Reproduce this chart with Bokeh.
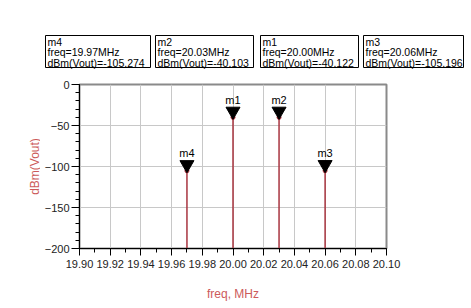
import math
from bokeh.plotting import figure
from bokeh.layouts import column, row
from bokeh.models import ColumnDataSource, FixedTicker, Range1d, CustomJSTickFormatter
from bokeh.core.properties import value
from bokeh.embed import file_html
from bokeh.resources import INLINE

# data
marker_names = ["m4", "m1", "m2", "m3"]
freqs = [19.97, 20.00, 20.03, 20.06]
levels = [-105.274, -40.122, -40.103, -105.196]
box_order = ["m4", "m2", "m1", "m3"]
x_ticks = [19.90, 19.92, 19.94, 19.96, 19.98, 20.00, 20.02, 20.04, 20.06, 20.08, 20.10]
y_ticks = [0, -50, -100, -150, -200]
x_title = "freq, MHz"
y_title = "dBm(Vout)"

FONT = "Liberation Sans"
RED = "#a8343f"
LBL_RED = "#cc5a5a"

W, H = 471, 308
HEAD_H = 80
STRIP_W = 40


def blank(width, height, xr, yr):
    f = figure(width=width, height=height, output_backend="svg", toolbar_location=None,
               x_range=xr, y_range=yr, x_axis_type=None, y_axis_type=None,
               min_border=0, min_border_left=0, min_border_right=0,
               min_border_top=0, min_border_bottom=0)
    f.frame_align = False
    f.outline_line_color = None
    f.xgrid.visible = False
    f.ygrid.visible = False
    return f


# ---- header with marker readout boxes (pixel coordinates, y from top) ----
head = blank(W, HEAD_H, Range1d(0, W), Range1d(HEAD_H, 0))
box_left = [45, 155, 260, 363]
box_right = [150, 253, 358, 463]
lookup = dict(zip(marker_names, zip(freqs, levels)))
bl, br, lines_x, lines_y, lines_t = [], [], [], [], []
for name, l, r in zip(box_order, box_left, box_right):
    f, v = lookup[name]
    bl.append(l)
    br.append(r)
    for k, t in enumerate([name, f"freq={f:.2f}MHz", f"dBm(Vout)={v:.3f}"]):
        lines_x.append(l + 2)
        lines_y.append(41 + 10.5 * k)
        lines_t.append(t)
head.quad(left=bl, right=br, top=[35] * 4, bottom=[67] * 4,
          fill_color="white", line_color="black", line_width=1)
head.text(x=lines_x, y=lines_y, text=lines_t, text_font=value(FONT),
          text_font_size="10.5px", text_baseline="middle", text_align="left",
          text_color="black")

# ---- left strip with the y-axis title ----
strip = blank(STRIP_W, H - HEAD_H, Range1d(0, STRIP_W), Range1d(H - HEAD_H, 0))
strip.text(x=[34], y=[86], text=[y_title], angle=math.pi / 2, text_font=value(FONT),
           text_font_size="12px", text_align="center", text_baseline="middle",
           text_color=LBL_RED)

# ---- main plot ----
p = figure(width=W - STRIP_W, height=H - HEAD_H, output_backend="svg", toolbar_location=None,
           x_range=Range1d(19.90, 20.10), y_range=Range1d(-200, 0),
           min_border_left=79 - STRIP_W, min_border_right=85, min_border_top=4,
           min_border_bottom=60)
p.frame_align = False
p.outline_line_color = "#8a8a8a"
p.outline_line_width = 2
p.background_fill_color = "white"
p.border_fill_color = "white"

p.xgrid.ticker = FixedTicker(ticks=x_ticks)
p.ygrid.ticker = FixedTicker(ticks=y_ticks)
p.xgrid.grid_line_color = "#c8c8c8"
p.ygrid.grid_line_color = "#c8c8c8"

p.xaxis.ticker = FixedTicker(ticks=x_ticks, minor_ticks=[round(19.90 + 0.01 * i, 2) for i in range(21)])
p.yaxis.ticker = FixedTicker(ticks=y_ticks, minor_ticks=list(range(-200, 1, 10)))
p.xaxis.formatter = CustomJSTickFormatter(code="return tick.toFixed(2);")
for ax in (p.xaxis[0], p.yaxis[0]):
    ax.axis_line_color = "black"
    ax.major_tick_line_color = "black"
    ax.minor_tick_line_color = "black"
    ax.major_label_text_font = FONT
    ax.major_label_text_font_size = "11px"
    ax.major_label_text_color = "#222222"
    ax.axis_label_text_font = FONT
    ax.axis_label_text_font_size = "12px"
    ax.axis_label_text_font_style = "normal"
    ax.axis_label_text_color = LBL_RED
p.xaxis.major_tick_in = 0
p.xaxis.major_tick_out = 7
p.xaxis.minor_tick_in = 0
p.xaxis.minor_tick_out = 4
p.yaxis.major_tick_in = 0
p.yaxis.major_tick_out = 8
p.yaxis.minor_tick_in = 0
p.yaxis.minor_tick_out = 4
p.xaxis.axis_label = x_title
p.xaxis.axis_label_standoff = 16
p.xaxis.major_label_standoff = 4
p.yaxis.major_label_standoff = 2

src = ColumnDataSource(dict(x=freqs, y=levels, name=marker_names,
                            base=[-200] * len(freqs),
                            tri=[v + 7.5 for v in levels],
                            lab=[v + 14 for v in levels]))
p.segment(x0="x", y0="base", x1="x", y1="y", source=src, line_color=RED, line_width=1.5)
p.scatter(x="x", y="y", source=src, size=4, color=RED)
p.scatter(x="x", y="tri", source=src, marker="inverted_triangle", size=14,
          fill_color="black", line_color="black")
p.text(x="x", y="lab", text="name", source=src, text_font=value(FONT),
       text_font_size="11px", text_align="center", text_baseline="bottom", text_color="black")

layout = column(head, row(strip, p, spacing=0), spacing=0)
open("out.html", "w").write(file_html(layout, INLINE))
